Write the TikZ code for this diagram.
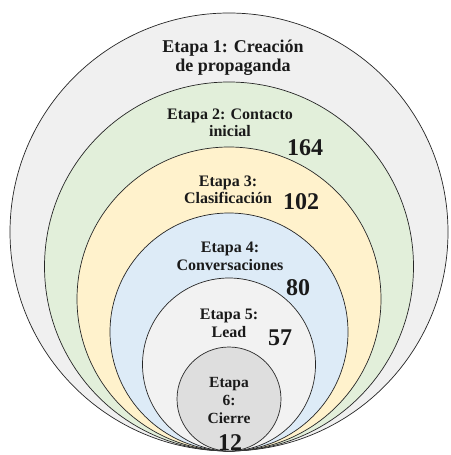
\documentclass[tikz,border=0pt]{standalone}
\usepackage{fontspec}
\setmainfont{Liberation Serif}
\definecolor{c1}{HTML}{F0F0F0}
\definecolor{c2}{HTML}{E2EFDA}
\definecolor{c3}{HTML}{FFF2CC}
\definecolor{c4}{HTML}{DDEBF7}
\definecolor{c5}{HTML}{F2F2F2}
\definecolor{c6}{HTML}{DEDEDE}
\definecolor{ink}{HTML}{1A1A1A}
\begin{document}
\begin{tikzpicture}[x=1pt,y=-1pt,
  ring/.style={circle, draw=black!85, line width=0.7pt, inner sep=0pt, outer sep=0pt},
  lbl/.style={font=\bfseries\fontsize{16}{16.5}\selectfont, align=center, inner sep=0pt, text=ink},
  num/.style={font=\bfseries\fontsize{24}{24}\selectfont, inner sep=0pt, text=ink}]
\useasboundingbox (0,0) rectangle (450,455);
\fill[white] (0,0) rectangle (450,455);
\node[ring, fill=c1, minimum size=438pt] (c1) at (229,232) {};
\node[ring, fill=c2, minimum size=369pt] (c2) at (229,266.5) {};
\node[ring, fill=c3, minimum size=304pt] (c3) at (229,299) {};
\node[ring, fill=c4, minimum size=238pt] (c4) at (229,332) {};
\node[ring, fill=c5, minimum size=173pt] (c5) at (229,364.5) {};
\node[ring, fill=c6, minimum size=104pt] (c6) at (229,399) {};
\node[lbl, font=\bfseries\fontsize{18}{19}\selectfont] (t1) at (233,57.5) {Etapa 1: Creación\\de propaganda};
\node[lbl] (t2) at (230,123) {Etapa 2: Contacto\\inicial};
\node[num] (n2) at (305,148) {164};
\node[lbl] (t3) at (228,190) {Etapa 3:\\Clasificación};
\node[num] (n3) at (301,202) {102};
\node[lbl, font=\bfseries\fontsize{16}{18}\selectfont] (t4) at (230,256) {Etapa 4:\\Conversaciones};
\node[num] (n4) at (298,288) {80};
\node[lbl, font=\bfseries\fontsize{16}{18}\selectfont] (t5) at (229,323) {Etapa 5:\\Lead};
\node[num] (n5) at (280,338) {57};
\node[lbl, font=\bfseries\fontsize{15.5}{18}\selectfont] (t6) at (229,400) {Etapa\\6:\\Cierre};
\node[num] (n6) at (230,443) {12};
\end{tikzpicture}
\end{document}
